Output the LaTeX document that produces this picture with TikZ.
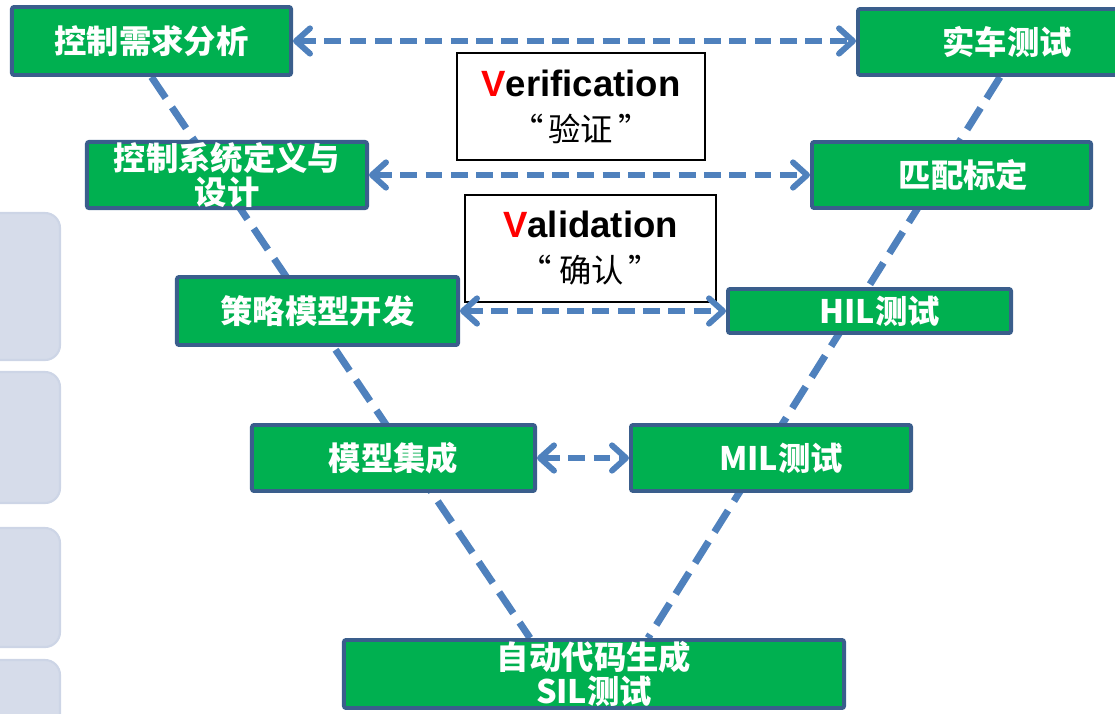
\documentclass[tikz,border=0pt]{standalone}
\usepackage{fontspec}
\setmainfont{Liberation Sans}
\newfontfamily\cjk{Noto Sans CJK SC}
\usetikzlibrary{calc,arrows.meta,backgrounds}
\definecolor{stagegreen}{HTML}{00B050}
\definecolor{stageedge}{HTML}{3A5E8C}
\definecolor{linkblue}{HTML}{4F81BD}
\definecolor{tabfill}{HTML}{D6DCEA}
\definecolor{tabedge}{HTML}{CDD5E6}
\tikzstyle{every node}=[font=\cjk]
\tikzstyle{stage}=[draw=stageedge,fill=stagegreen,line width=2.8pt,rounded corners=1.5pt,
  text=white,align=center,inner sep=0pt,font=\cjk\bfseries\fontsize{23pt}{24.8pt}\selectfont]
\tikzstyle{note}=[draw=black,line width=1.3pt,fill=white,align=center,inner sep=0pt,
  font=\bfseries\fontsize{26pt}{32pt}\selectfont]
\tikzstyle{vlink}=[draw=linkblue,line width=5pt,dash pattern=on 18pt off 8pt]
\tikzstyle{hlink}=[draw=linkblue,line width=4.2pt,dash pattern=on 12pt off 6pt,
  >={Straight Barb[length=10pt,width=18pt,round]},<->]
\tikzstyle{tab}=[fill=tabfill,draw=tabedge,line width=1.5pt,rounded corners=0.375cm]

\begin{document}
\begin{tikzpicture}[x=0.025cm,y=-0.025cm]
    \useasboundingbox (0,0) rectangle (1115,713);
    \clip (0,0) rectangle (1115,713);

    % side tabs
    \draw[tab] (-20,213) rectangle (60,360);
    \draw[tab] (-20,372) rectangle (60,503);
    \draw[tab] (-20,528) rectangle (60,647);
    \draw[tab] (-20,660) rectangle (60,740);

    % left leg of the V
    \node[stage,minimum width=6.975cm,minimum height=1.7cm] (req) at (151.5,41) {控制需求分析};
    \node[stage,minimum width=7cm,minimum height=1.65cm] (sys) at (227,175) {控制系统定义与\\设计};
    \node[stage,minimum width=7.025cm,minimum height=1.7cm] (alg) at (317.5,311) {策略模型开发};
    \node[stage,minimum width=7.075cm,minimum height=1.65cm] (int) at (393.5,458) {模型集成};

    % right leg of the V
    \node[stage,minimum width=7.45cm,minimum height=1.65cm] (car) at (1007,42) {实车测试};
    \node[stage,minimum width=6.975cm,minimum height=1.65cm] (cal) at (951.5,175) {\hspace*{0.6cm}匹配标定};
    \node[stage,minimum width=7.075cm,minimum height=1.1cm] (hil) at (869.5,311) {\hspace*{0.5cm}HIL测试};
    \node[stage,minimum width=7cm,minimum height=1.65cm] (mil) at (771,458) {\hspace*{0.5cm}MIL测试};

    % bottom of the V
    \node[stage,minimum width=12.5cm,minimum height=1.7cm] (sil) at (594,674) {自动代码生成\\SIL测试};

    % labels between the legs
    \node[note,minimum width=6.2cm,minimum height=2.675cm] (ver) at (581,106.5)
        {\textcolor{red}{V}erification\\{\cjk\mdseries\fontsize{23pt}{32pt}\selectfont “\kern0.15em 验证\kern0.15em”}};
    \node[note,minimum width=6.275cm,minimum height=2.675cm] (val) at (590.5,248.5)
        {\textcolor{red}{V}alidation\\{\cjk\mdseries\fontsize{23pt}{32pt}\selectfont “ 确认\kern0.15em”}};

    % verification / validation pairs
    \draw[hlink] (req.east) -- (req.east -| car.west);
    \draw[hlink] (sys.east) -- (sys.east -| cal.west);
    \draw[hlink] (alg.east) -- (alg.east -| hil.west);
    \draw[hlink] (int.east) -- (int.east -| mil.west);

    % the V itself
    \begin{scope}[on background layer]
        \draw[vlink] (req.south) -- ($(sil.north)+(-64,0)$);
        \draw[vlink] ($(car.south)+(-7,0)$) -- ($(sil.north)+(54,0)$);
    \end{scope}
\end{tikzpicture}
\end{document}
